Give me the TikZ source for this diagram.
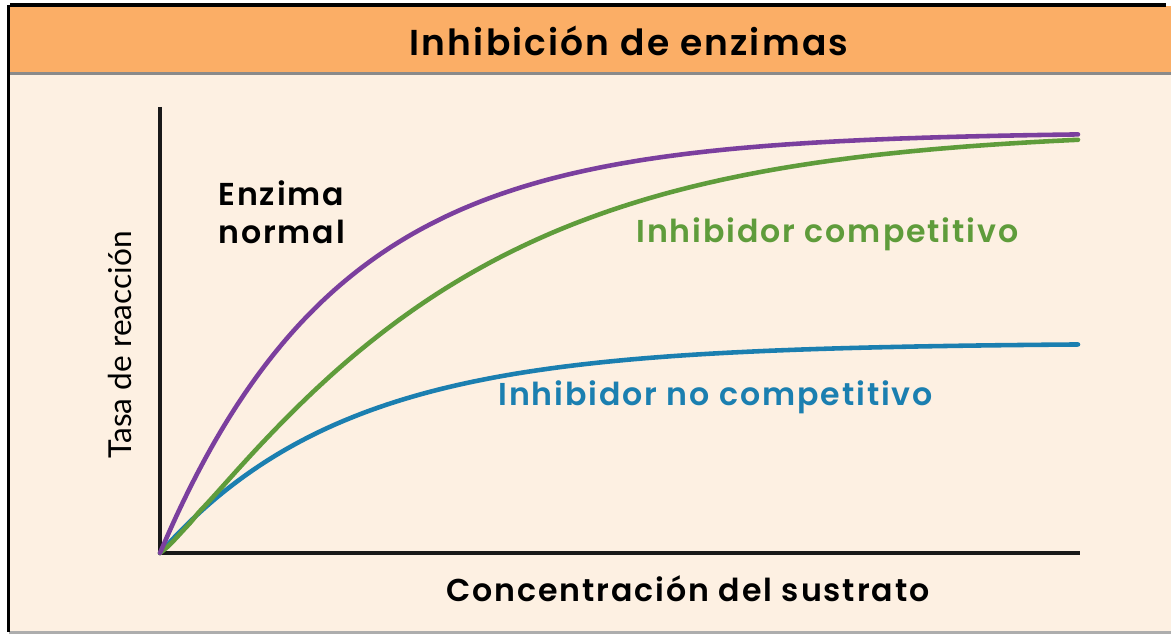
\documentclass[tikz,border=0pt]{standalone}
\usepackage{fontspec}
\setmainfont{Lato}
\newfontfamily\labelfont{Poppins SemiBold}[LetterSpace=6]
\usetikzlibrary{positioning}

\definecolor{headorange}{HTML}{FBAE66}
\definecolor{paper}{HTML}{FDF0E2}
\definecolor{normalpurple}{HTML}{7B3F9E}
\definecolor{compgreen}{HTML}{5F9C3B}
\definecolor{noncompblue}{HTML}{1B7FB0}
\definecolor{rulegrey}{HTML}{8A8A8A}

\tikzset{
  axisline/.style={line width=2.2pt, black!90},
  curveline/.style={line width=2.6pt, line cap=round, smooth, samples=120},
  curvelabel/.style={font=\labelfont\fontsize{18}{22}\selectfont, anchor=west, inner sep=0pt}
}

\begin{document}
\begin{tikzpicture}[x=0.02cm, y=-0.02cm]
\useasboundingbox (0,0) rectangle (1171,634);

    % panel and header
    \fill[paper] (9,74) rectangle (1171,632);
    \fill[headorange] (9,6) rectangle (1171,73);
    \draw[rulegrey, line width=1.4pt] (9,73.5) -- (1171,73.5);
    \draw[rulegrey!70, line width=1.2pt] (9,632.5) -- (1171,632.5);
    \draw[black, line width=1.8pt] (10,5) -- (1166,5);
    \draw[black, line width=2pt] (8.5,5) -- (8.5,632);
    \node[font=\labelfont\fontsize{20.5}{24}\selectfont, inner sep=0pt] (title) at (629,41) {Inhibición de enzimas};

    % axes
    \coordinate (origin) at (160,553);
    \coordinate (ytop) at (160,107);
    \coordinate (xend) at (1080,553);
    \draw[axisline] (ytop) -- (origin) -- (xend);
    \node[font=\labelfont\fontsize{18}{22}\selectfont, inner sep=0pt] (xlabel) at (688,589) {Concentración del sustrato};
    \node[font=\fontsize{18}{22}\selectfont, rotate=90, inner sep=0pt] (ylabel) at (120,345) {Tasa de reacción};

    % curves
    \draw[curveline, noncompblue] plot[domain=0:918] ({160+\x}, {553-210*(1-exp(-\x/185))});
    \draw[curveline, compgreen] plot[domain=0.01:918] ({160+\x}, {553-423*(1-exp(-(\x/290)^1.15))});
    \draw[curveline, normalpurple] plot[domain=0:918] ({160+\x}, {553-421*(1-exp(-\x/178))});

    % labels
    \node[curvelabel, black, align=left, anchor=north west] (enzlabel) at (218,180) {Enzima\\normal};
    \node[curvelabel, compgreen] (complabel) at (636,234) {Inhibidor competitivo};
    \node[curvelabel, noncompblue] (noncomplabel) at (498,397) {Inhibidor no competitivo};

\end{tikzpicture}
\end{document}
